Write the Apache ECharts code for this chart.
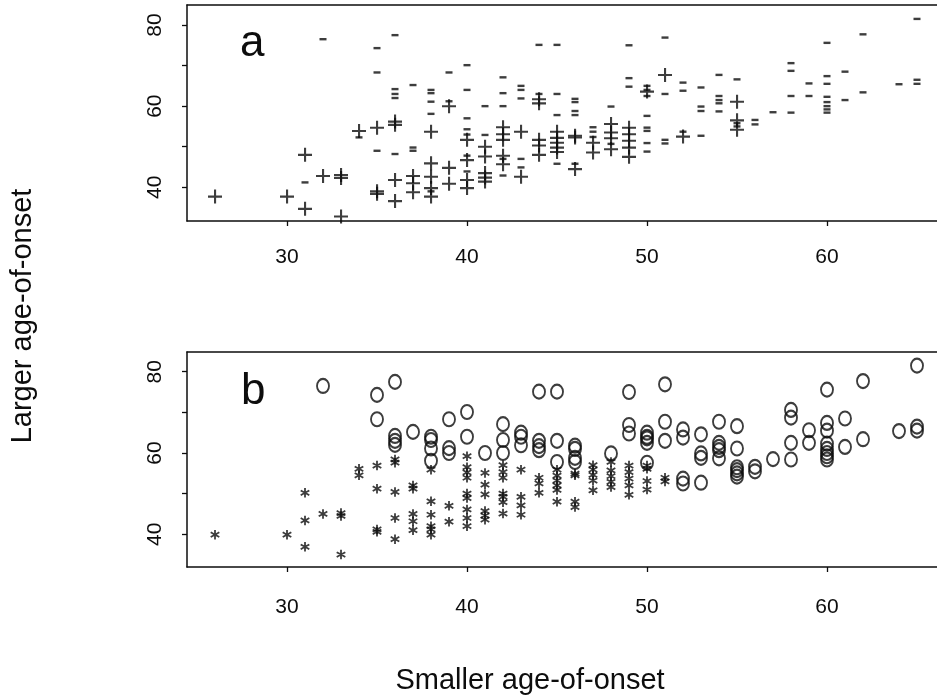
<!DOCTYPE html>
<html>
<head>
<meta charset="utf-8">
<script src="https://cdn.jsdelivr.net/npm/echarts@6/dist/echarts.min.js"></script>
<style>
html,body{margin:0;padding:0;background:#fff;}
#chart{width:937px;height:696px;}
</style>
</head>
<body>
<div id="chart"></div>
<script>
// ---- data: [smaller age-of-onset, larger age-of-onset] ----
const plusA = [[26,37.7],[30,37.7],[31,48.0],[31,34.7],[32,42.8],[33,43.0],[33,42.3],[33,32.8],[34,53.9],[35,54.7],[35,39.0],[35,38.4],[36,56.2],[36,55.4],[36,41.8],[36,36.6],[37,42.8],[37,41.0],[37,38.8],[38,53.7],[38,45.9],[38,42.6],[38,39.8],[38,37.7],[39,60.0],[39,44.8],[39,40.9],[40,51.7],[40,46.7],[40,41.8],[40,39.8],[41,50.0],[41,47.6],[41,43.5],[41,42.4],[41,41.4],[42,54.8],[42,53.1],[42,51.7],[42,47.8],[42,45.7],[43,53.7],[43,42.6],[44,61.7],[44,60.7],[44,51.7],[44,50.3],[44,48.0],[45,53.7],[45,52.2],[45,51.0],[45,49.8],[45,48.7],[46,52.7],[46,52.3],[46,44.5],[47,51.0],[47,48.6],[48,55.6],[48,53.5],[48,52.1],[48,49.4],[49,54.7],[49,53.1],[49,51.5],[49,49.8],[49,47.5],[50,63.6],[51,67.7],[52,52.5],[55,61.1],[55,56.5],[55,54.2]];
const minusA = [[31,41.2],[32,76.5],[34,52.3],[35,74.3],[35,68.3],[35,49.0],[36,77.5],[36,64.2],[36,63.0],[36,62.0],[36,48.2],[37,65.2],[37,49.8],[37,49.0],[38,64.0],[38,63.2],[38,61.1],[38,58.1],[38,39.0],[39,68.3],[39,61.2],[40,70.1],[40,64.0],[40,57.0],[40,54.3],[40,53.0],[40,47.8],[40,43.9],[41,60.0],[41,52.9],[42,67.1],[42,63.2],[42,60.0],[42,47.0],[42,42.9],[43,65.0],[43,64.0],[43,61.9],[43,47.0],[43,44.9],[44,75.1],[44,63.0],[45,75.1],[45,63.0],[45,57.8],[45,45.8],[46,61.8],[46,61.0],[46,58.8],[46,57.8],[46,45.8],[47,54.8],[47,53.7],[47,52.4],[48,59.9],[48,50.7],[49,75.0],[49,66.9],[49,64.8],[50,65.0],[50,64.0],[50,62.5],[50,57.6],[50,54.7],[50,53.9],[50,50.9],[50,48.8],[51,76.9],[51,63.0],[51,51.7],[51,50.8],[52,65.8],[52,63.8],[52,53.7],[53,64.6],[53,59.9],[53,58.8],[53,52.7],[54,67.7],[54,62.5],[54,61.5],[54,60.7],[54,58.7],[55,66.6],[55,55.8],[55,55.0],[56,56.6],[56,55.5],[57,58.5],[58,70.6],[58,68.7],[58,62.5],[58,58.4],[59,65.6],[59,62.5],[60,75.6],[60,67.4],[60,65.5],[60,62.3],[60,61.0],[60,60.0],[60,59.2],[60,58.4],[61,68.5],[61,61.5],[62,77.7],[62,63.4],[64,65.4],[65,81.5],[65,66.5],[65,65.5]];
const starB = [[26,37.7],[30,37.7],[31,48.0],[31,41.2],[31,34.7],[32,42.8],[33,43.0],[33,42.3],[33,32.8],[34,53.9],[34,52.3],[35,54.7],[35,49.0],[35,39.0],[35,38.4],[36,56.2],[36,55.4],[36,48.2],[36,41.8],[36,36.6],[37,49.8],[37,49.0],[37,42.8],[37,41.0],[37,38.8],[38,53.7],[38,45.9],[38,42.6],[38,39.8],[38,39.0],[38,37.7],[39,44.8],[39,40.9],[40,57.0],[40,54.3],[40,53.0],[40,51.7],[40,47.8],[40,46.7],[40,43.9],[40,41.8],[40,39.8],[41,52.9],[41,50.0],[41,47.6],[41,43.5],[41,42.4],[41,41.4],[42,54.8],[42,53.1],[42,51.7],[42,47.8],[42,47.0],[42,45.7],[42,42.9],[43,53.7],[43,47.0],[43,44.9],[43,42.6],[44,51.7],[44,50.3],[44,48.0],[45,53.7],[45,52.2],[45,51.0],[45,49.8],[45,48.7],[45,45.8],[46,52.7],[46,52.3],[46,45.8],[46,44.5],[47,54.8],[47,53.7],[47,52.4],[47,51.0],[47,48.6],[48,55.6],[48,53.5],[48,52.1],[48,50.7],[48,49.4],[49,54.7],[49,53.1],[49,51.5],[49,49.8],[49,47.5],[50,54.7],[50,53.9],[50,50.9],[50,48.8],[51,51.7],[51,50.8]];
const circleB = [[32,76.5],[35,74.3],[35,68.3],[36,77.5],[36,64.2],[36,63.0],[36,62.0],[37,65.2],[38,64.0],[38,63.2],[38,61.1],[38,58.1],[39,68.3],[39,61.2],[39,60.0],[40,70.1],[40,64.0],[41,60.0],[42,67.1],[42,63.2],[42,60.0],[43,65.0],[43,64.0],[43,61.9],[44,75.1],[44,63.0],[44,61.7],[44,60.7],[45,75.1],[45,63.0],[45,57.8],[46,61.8],[46,61.0],[46,58.8],[46,57.8],[48,59.9],[49,75.0],[49,66.9],[49,64.8],[50,65.0],[50,64.0],[50,63.6],[50,62.5],[50,57.6],[51,76.9],[51,67.7],[51,63.0],[52,65.8],[52,63.8],[52,53.7],[52,52.5],[53,64.6],[53,59.9],[53,58.8],[53,52.7],[54,67.7],[54,62.5],[54,61.5],[54,60.7],[54,58.7],[55,66.6],[55,61.1],[55,56.5],[55,55.8],[55,55.0],[55,54.2],[56,56.6],[56,55.5],[57,58.5],[58,70.6],[58,68.7],[58,62.5],[58,58.4],[59,65.6],[59,62.5],[60,75.6],[60,67.4],[60,65.5],[60,62.3],[60,61.0],[60,60.0],[60,59.2],[60,58.4],[61,68.5],[61,61.5],[62,77.7],[62,63.4],[64,65.4],[65,81.5],[65,66.5],[65,65.5]];
const xTicks = [30, 40, 50, 60];
const yTicks = [40, 50, 60, 70, 80];
const yLabels = [40, 60, 80];
const panelLabels = ['a', 'b'];
const xTitle = 'Smaller age-of-onset';
const yTitle = 'Larger age-of-onset';

// ---- styles ----
const INK = '#0d0d0d';
const FONT = '"Liberation Sans", Arial, Helvetica, sans-serif';
const plusPath = 'path://M6,0 H8.1 V6 H14 V8.1 H8.1 V14 H6 V8.1 H0 V6 H6 Z';
function asteriskPath(arms, w) {
  const c = 10, L = 10;
  let d = '';
  for (let i = 0; i < arms; i++) {
    const a = -Math.PI / 2 + i * Math.PI * 2 / arms;
    const dx = Math.cos(a), dy = Math.sin(a);
    const nx = -dy * w, ny = dx * w;
    const pts = [[c + nx, c + ny], [c + L * dx + nx, c + L * dy + ny], [c + L * dx - nx, c + L * dy - ny], [c - nx, c - ny]];
    d += 'M' + pts.map(p => p[0].toFixed(2) + ',' + p[1].toFixed(2)).join(' L') + ' Z ';
  }
  return 'path://' + d;
}
const starPath = asteriskPath(6, 1.8);
const XMIN = 24.444, XMAX = 66.111;
const lineSt = { color: INK, width: 1.5 };

function mkX(gi, margin) {
  return {
    gridIndex: gi, type: 'value', min: XMIN, max: XMAX, position: 'bottom',
    axisLine: { show: true, onZero: false, lineStyle: lineSt }, splitLine: { show: false },
    axisTick: { show: true, customValues: xTicks, length: 5, lineStyle: { color: INK, width: 1.3 } },
    axisLabel: { customValues: xTicks, margin: margin, fontSize: 21, color: INK, fontFamily: FONT }
  };
}
function mkTop(gi) {
  return {
    gridIndex: gi, type: 'value', min: XMIN, max: XMAX, position: 'top',
    axisLine: { show: true, onZero: false, lineStyle: lineSt }, splitLine: { show: false },
    axisTick: { show: false }, axisLabel: { show: false }
  };
}
function mkY(gi, min, max) {
  return {
    gridIndex: gi, type: 'value', min: min, max: max, position: 'left',
    axisLine: { show: true, onZero: false, lineStyle: lineSt }, splitLine: { show: false },
    axisTick: { show: true, customValues: yTicks, length: 5, lineStyle: { color: INK, width: 1.3 } },
    axisLabel: { customValues: yLabels, rotate: 90, margin: 21, fontSize: 21, color: INK, fontFamily: FONT }
  };
}

const chart = echarts.init(document.getElementById('chart'), null, { renderer: 'canvas' });
chart.setOption({
  animation: false,
  backgroundColor: '#fff',
  grid: [
    { left: 187, top: 5, right: 0, height: 216 },
    { left: 187, top: 352, right: 0, height: 215 }
  ],
  xAxis: [mkX(0, 26), mkX(1, 30), mkTop(0), mkTop(1)],
  yAxis: [mkY(0, 31.69, 84.93), mkY(1, 31.96, 84.85)],
  series: [
    { type: 'scatter', xAxisIndex: 0, yAxisIndex: 0, data: plusA, symbol: plusPath, symbolSize: 14,
      itemStyle: { color: INK } },
    { type: 'scatter', xAxisIndex: 0, yAxisIndex: 0, data: minusA, symbol: 'rect', symbolSize: [7, 2.4],
      itemStyle: { color: INK } },
    { type: 'scatter', xAxisIndex: 1, yAxisIndex: 1, data: starB, symbol: starPath, symbolSize: [9.5, 9.5], symbolOffset: [0, -9],
      itemStyle: { color: INK } },
    { type: 'scatter', xAxisIndex: 1, yAxisIndex: 1, data: circleB, symbol: 'circle', symbolSize: [12, 14],
      itemStyle: { color: 'rgba(0,0,0,0)', borderColor: INK, borderWidth: 2 } }
  ],
  graphic: [
    { type: 'text', left: 240, top: 22, style: { text: panelLabels[0], font: '44px ' + FONT, fill: INK } },
    { type: 'text', left: 241, top: 370, style: { text: panelLabels[1], font: '44px ' + FONT, fill: INK } },
    { type: 'text', x: 530, y: 681, style: { text: xTitle, font: '29px ' + FONT, fill: INK, textAlign: 'center', textVerticalAlign: 'middle' } },
    { type: 'text', x: 23, y: 316, rotation: Math.PI / 2, style: { text: yTitle, font: '29px ' + FONT, fill: INK, textAlign: 'center', textVerticalAlign: 'middle' } }
  ]
});
</script>
</body>
</html>
